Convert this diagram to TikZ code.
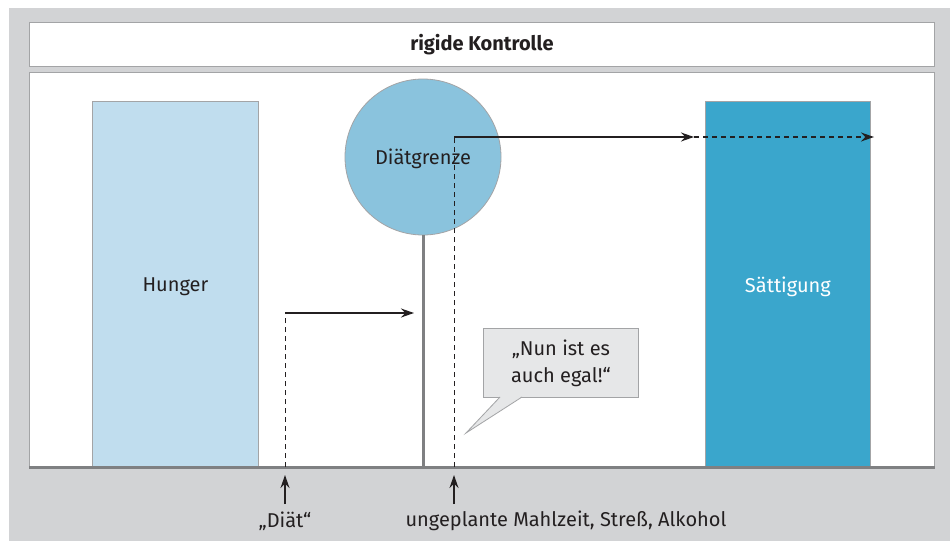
\documentclass[tikz,border=0pt]{standalone}
\usepackage{fontspec}
\setmainfont{Fira Sans}
\usetikzlibrary{arrows.meta}
\definecolor{panel}{HTML}{D2D3D5}
\definecolor{edge}{HTML}{A3A4A6}
\definecolor{axisc}{HTML}{7F8082}
\definecolor{hungc}{HTML}{C0DDEE}
\definecolor{sattc}{HTML}{3AA6CC}
\definecolor{circc}{HTML}{8AC3DD}
\definecolor{bubc}{HTML}{E6E7E8}
\definecolor{inkc}{HTML}{231F20}
\tikzset{
  bar/.style={draw=edge, line width=0.8pt},
  tipst/.style={-{Stealth[length=13pt,width=9pt]}},
  arr/.style={tipst, line width=1.4pt, draw=inkc},
  dsh/.style={dash pattern=on 5pt off 4pt, line width=1pt, draw=inkc},
  lbl/.style={font=\fontsize{20}{24}\selectfont, text=inkc, inner sep=0pt},
}
\begin{document}
\begin{tikzpicture}[x=1pt,y=-1pt]
\useasboundingbox (0,0) rectangle (950,541);
\fill[white] (0,0) rectangle (950,541);
\fill[panel] (9,8) rectangle (950,541);
% title
\node[draw=edge, fill=white, line width=0.8pt, minimum width=905pt, minimum height=44pt, anchor=north west,
  font=\fontsize{20}{24}\selectfont\bfseries, text=inkc] (title) at (29,22) {rigide Kontrolle};
% main box
\node[draw=edge, fill=white, line width=0.8pt, minimum width=905pt, minimum height=395pt, anchor=north west] (main) at (29,72) {};
% bars
\node[bar, fill=hungc, minimum width=166pt, minimum height=365pt, anchor=south west] (hunger) at (92,467) {};
\node[lbl] at ([yshift=-3pt]hunger.center) {Hunger};
\node[bar, fill=sattc, minimum width=165pt, minimum height=365pt, anchor=south west] (satt) at (705,467) {};
\node[lbl, text=white] at ([yshift=-3pt]satt.center) {Sättigung};
% axis
\draw[axisc, line width=3pt] (main.south west) -- (main.south east);
% circle
\node[circle, draw=edge, fill=circc, line width=0.8pt, minimum size=156pt] (grenze) at (423,157) {};
\node[lbl] at ([yshift=-2pt]grenze.center) {Diätgrenze};
\coordinate (pb) at (423,467);
\draw[axisc, line width=3pt] (grenze.south) -- (pb);
% Diät path
\coordinate (d0) at (285,467);
\coordinate (d1) at (285,313);
\coordinate (d2) at (414,313);
\draw[dsh] (d0) -- (d1);
\draw[arr] (d1) -- (d2);
% ungeplante path
\coordinate (u0) at (454,467);
\coordinate (u1) at (454,137);
\coordinate (u2) at (694,137);
\coordinate (u3) at (874,137);
\draw[dsh] (u0) -- (u1);
\draw[arr] (u1) -- (u2);
\draw[dsh, line width=1.3pt, tipst] (u2) -- (u3);
% bubble
\node[draw=edge, fill=bubc, line width=0.8pt, minimum width=155pt, minimum height=69pt, anchor=north west,
  align=center, font=\fontsize{20}{27}\selectfont, text=inkc, inner sep=0pt] (bubble) at (483,328) {„Nun ist es\\auch egal!“};
\coordinate (tip) at (466,433);
\fill[bubc] (500,396.6) -- (tip) -- (522,396.6) -- cycle;
\draw[edge, line width=0.8pt] (500,397) -- (tip) -- (522,397);
% labels
\node[lbl] (ldiat) at (285,521) {„Diät“};
\node[lbl] (lung) at (566,521) {ungeplante Mahlzeit, Streß, Alkohol};
\coordinate (ad) at (285,475);
\coordinate (au) at (454,475);
\coordinate (bd) at (285,504);
\coordinate (bu) at (454,504);
\draw[arr] (bd) -- (ad);
\draw[arr] (bu) -- (au);
\end{tikzpicture}
\end{document}
